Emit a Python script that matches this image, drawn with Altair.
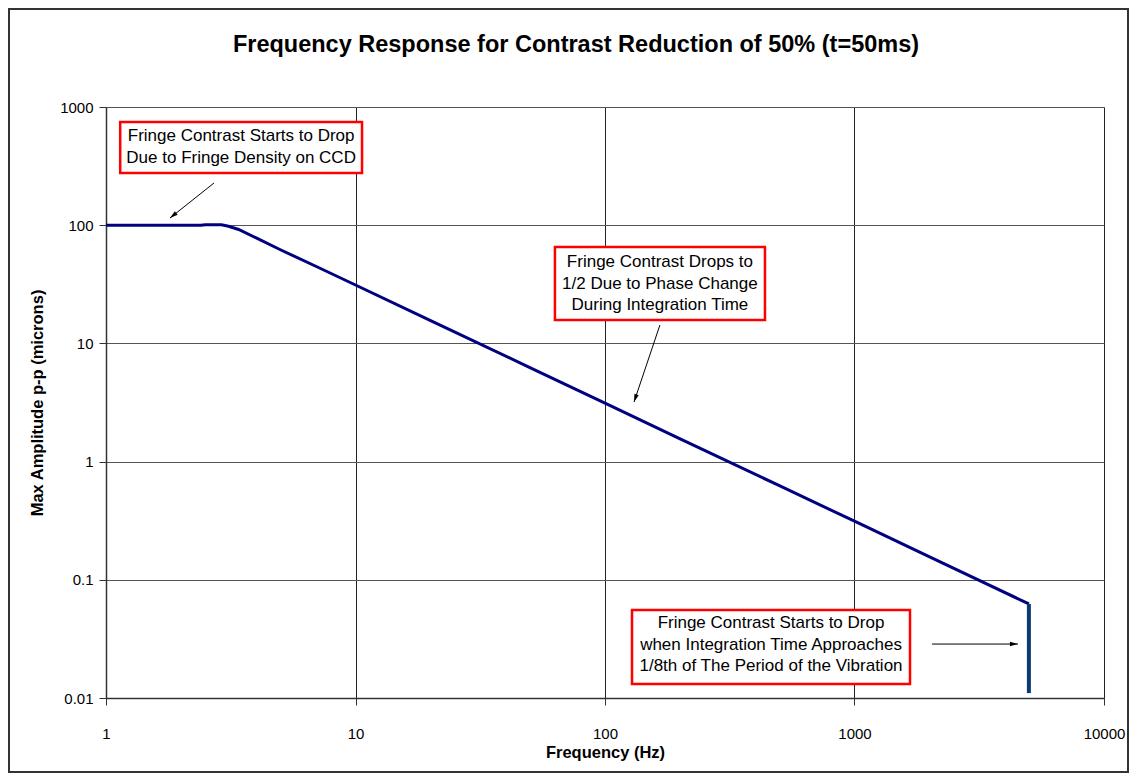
import altair as alt
import pandas as pd

FONT = "Liberation Sans"

# main response curve
freq = [1, 2.4, 2.5, 2.9, 3.1, 3.4, 4, 5, 7, 10, 20, 50, 100, 200, 500, 1000, 2000, 5000]
amp = [100, 100, 101, 101, 98, 92, 78, 62, 44.5, 31.2, 15.6, 6.25, 3.13, 1.56, 0.625, 0.313, 0.156, 0.0625]

# vertical drop at the integration-time limit
drop_freq = [5000, 5000]
drop_amp = [0.0625, 0.011]

# annotation boxes (data coordinates)
box_x1 = [1.14, 63.0, 128.3]
box_x2 = [10.62, 437.7, 1669]
box_y1 = [746, 65.4, 0.0555]
box_y2 = [276, 15.8, 0.01313]
box_cx = [3.48, 166, 462.8]
box_ty = [568, 48.8, 0.0431]   # first text line position
box_text = [
    "Fringe Contrast Starts to Drop\nDue to Fringe Density on CCD",
    "Fringe Contrast Drops to\n1/2 Due to Phase Change\nDuring Integration Time",
    "Fringe Contrast Starts to Drop\nwhen Integration Time Approaches\n1/8th of The Period of the Vibration",
]

# arrows (data coordinates), head at (x2, y2)
arr_x1 = [2.71, 166, 2045]
arr_y1 = [227.6, 14.3, 0.0286]
arr_x2 = [1.805, 130.7, 4519]
arr_y2 = [115, 3.19, 0.0286]
arr_angle = [231.5, 198.7, 90]

x_ticks = [1, 10, 100, 1000, 10000]
y_ticks = [0.01, 0.1, 1, 10, 100, 1000]

TITLE = "Frequency Response for Contrast Reduction of 50% (t=50ms)"

W, H = 998, 591

line_df = pd.DataFrame({"f": freq, "a": amp})
drop_df = pd.DataFrame({"f": drop_freq, "a": drop_amp})
box_df = pd.DataFrame({"x1": box_x1, "x2": box_x2, "y1": box_y1, "y2": box_y2,
                       "cx": box_cx, "ty": box_ty, "t": box_text})
arr_df = pd.DataFrame({"x1": arr_x1, "y1": arr_y1, "x2": arr_x2, "y2": arr_y2, "ang": arr_angle})

xscale = alt.Scale(type="log", domain=[1, 10000], nice=False)
yscale = alt.Scale(type="log", domain=[0.01, 1000], nice=False)

xaxis = alt.Axis(values=x_ticks, format="~g", title="Frequency (Hz)",
                 grid=True, gridColor="#222222", gridWidth=1,
                 domainColor="#333333", domainWidth=1.5, tickColor="#333333",
                 tickSize=7, labelPadding=21, labelFontSize=15, labelFont=FONT,
                 labelColor="#000000", titleFont=FONT, titleFontSize=16.5,
                 titleFontWeight="bold", titleColor="#000000", titlePadding=3,
                 labelFlush=False)
yaxis = alt.Axis(values=y_ticks, format="~g", title="Max Amplitude p-p (microns)",
                 grid=True, gridColor="#555555", gridWidth=1,
                 domainColor="#333333", domainWidth=1.5, tickColor="#333333",
                 tickSize=7, labelPadding=6, labelFontSize=15, labelFont=FONT,
                 labelColor="#000000", titleFont=FONT, titleFontSize=16.5,
                 titleFontWeight="bold", titleColor="#000000", titlePadding=14,
                 labelFlush=False)

base_line = alt.Chart(line_df).mark_line(color="#000080", strokeWidth=3).encode(
    x=alt.X("f:Q", scale=xscale, axis=xaxis),
    y=alt.Y("a:Q", scale=yscale, axis=yaxis),
)

drop_line = alt.Chart(drop_df).mark_line(color="#0B3A72", strokeWidth=4).encode(
    x=alt.X("f:Q", scale=xscale), y=alt.Y("a:Q", scale=yscale)
)

boxes = alt.Chart(box_df).mark_rect(fill="white", stroke="#FF0000", strokeWidth=2.5).encode(
    x=alt.X("x1:Q", scale=xscale), x2="x2:Q",
    y=alt.Y("y1:Q", scale=yscale), y2="y2:Q",
)

texts = alt.Chart(box_df).mark_text(font=FONT, fontSize=17, lineHeight=21.5,
                                    lineBreak="\n", align="center", baseline="middle",
                                    color="#000000").encode(
    x=alt.X("cx:Q", scale=xscale), y=alt.Y("ty:Q", scale=yscale), text="t:N"
)

arrows = alt.Chart(arr_df).mark_rule(color="#000000", strokeWidth=1).encode(
    x=alt.X("x1:Q", scale=xscale), x2="x2:Q",
    y=alt.Y("y1:Q", scale=yscale), y2="y2:Q",
)

heads = alt.Chart(arr_df).mark_point(shape="M0,0 L0.45,1.6 L-0.45,1.6 Z", size=100,
                                     filled=True, color="#000000", opacity=1).encode(
    x=alt.X("x2:Q", scale=xscale), y=alt.Y("y2:Q", scale=yscale),
    angle=alt.Angle("ang:Q", scale=None)
)

one = pd.DataFrame({"k": [0]})

border = alt.Chart(one).mark_rect(fill=None, stroke="#333333", strokeWidth=2).encode(
    x=alt.value(-97), x2=alt.value(W + 24), y=alt.value(-98), y2=alt.value(H + 74)
)

title = alt.Chart(one).mark_text(font=FONT, fontSize=23.5, fontWeight="bold",
                                 align="center", baseline="middle", color="#000000").encode(
    x=alt.value(470), y=alt.value(-62), text=alt.value(TITLE)
)

chart = alt.layer(border, title, base_line, drop_line, boxes, texts, arrows, heads).properties(
    width=W, height=H,
    autosize=alt.AutoSizeParams(type="none"),
    padding={"left": 98, "top": 99, "right": 27, "bottom": 75},
).configure_view(stroke="#333333", strokeWidth=1).configure(background="white")

chart.save("out.html", embed_options={"renderer": "svg", "actions": False})
